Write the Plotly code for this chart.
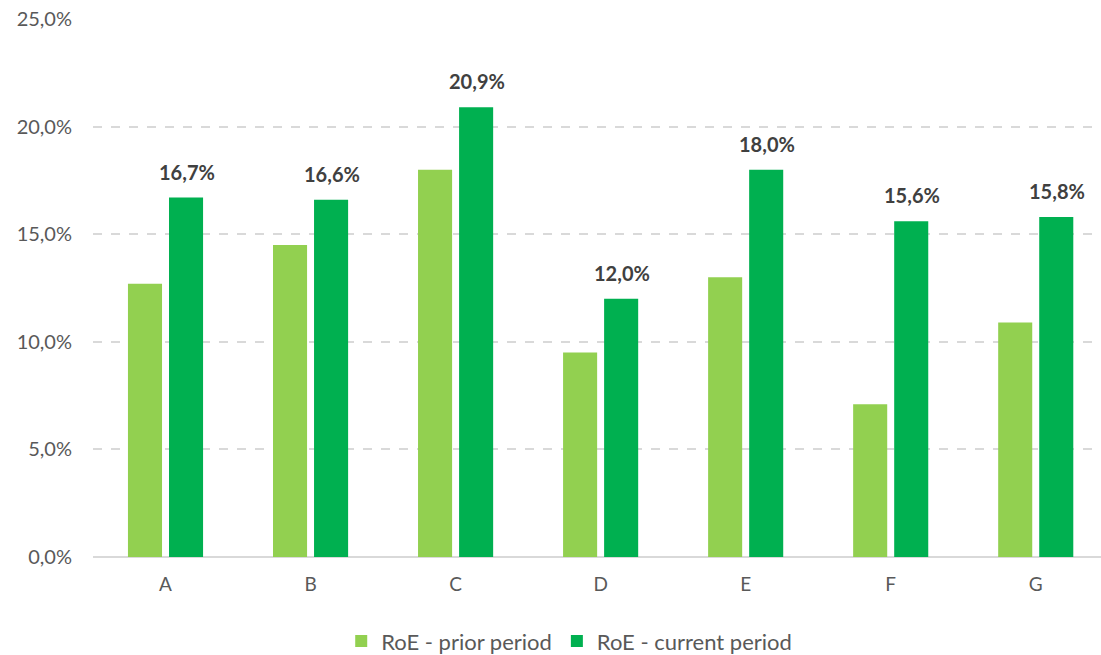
import plotly.graph_objects as go

categories = ["A", "B", "C", "D", "E", "F", "G"]
prior = [12.7, 14.5, 18.0, 9.5, 13.0, 7.1, 10.9]
current = [16.7, 16.6, 20.9, 12.0, 18.0, 15.6, 15.8]
y_ticks = [0, 5, 10, 15, 20, 25]
y_tick_labels = ["0,0%", "5,0%", "10,0%", "15,0%", "20,0%", "25,0%"]

FONT = "Lato, 'Open Sans', sans-serif"

fig = go.Figure()
fig.add_trace(go.Bar(
    x=categories, y=prior, name="RoE - prior period",
    marker=dict(color="#92d050", line=dict(width=0)),
    offsetgroup="prior",
))
fig.add_trace(go.Bar(
    x=categories, y=current, name="RoE - current period",
    marker=dict(color="#00b050", line=dict(width=0)),
    offsetgroup="current",
))

# data labels above the current-period bars (shifted to the right bar of each group)
for i, (cat, val) in enumerate(zip(categories, current)):
    fig.add_annotation(
        x=i + 0.145, y=val, xref="x", yref="y",
        text="<b>" + f"{val:.1f}".replace(".", ",") + "%</b>",
        showarrow=False, yanchor="bottom", yshift=12,
        font=dict(family=FONT, size=20, color="#404040"),
    )

fig.update_layout(
    width=1101, height=655,
    margin=dict(l=93, r=0, t=19, b=98),
    plot_bgcolor="white", paper_bgcolor="white",
    separators=", ",
    barmode="group", bargap=0.434, bargroupgap=0.17,
    font=dict(family=FONT, size=19, color="#595959"),
    showlegend=True,
    legend=dict(orientation="h", x=0.517, xref="container", xanchor="center",
                y=0.021, yref="container", yanchor="middle",
                font=dict(family=FONT, size=22, color="#595959"),
                traceorder="normal"),
    xaxis=dict(range=[-0.5, 6.45], showgrid=False, showline=False, ticks="",
               ticklabelstandoff=14,
               tickfont=dict(family=FONT, size=19, color="#595959")),
    yaxis=dict(range=[0, 25], tickvals=y_ticks, ticktext=y_tick_labels,
               showgrid=True, gridcolor="#d9d9d9", griddash="dash", gridwidth=1.5,
               zeroline=True, zerolinecolor="#d9d9d9", zerolinewidth=1.5,
               showline=False, ticks="", ticklabelstandoff=20,
               tickfont=dict(family=FONT, size=20, color="#595959")),
)

fig.write_html("out.html")
